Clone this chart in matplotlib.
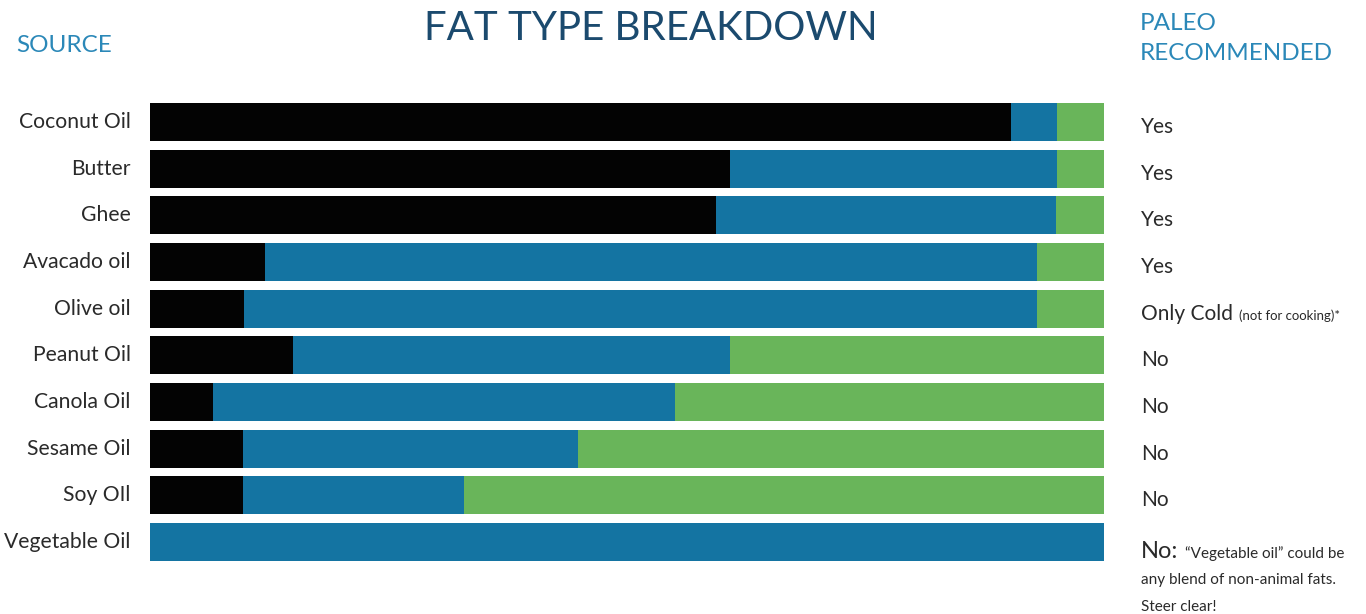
import matplotlib
matplotlib.use("Agg")
import matplotlib.pyplot as plt

plt.rcParams['font.family'] = ['Lato', 'DejaVu Sans']

sources = ["Coconut Oil", "Butter", "Ghee", "Avacado oil", "Olive oil",
           "Peanut Oil", "Canola Oil", "Sesame Oil", "Soy OIl", "Vegetable Oil"]
saturated = [90.2, 60.8, 59.3, 12.1, 9.9, 15.0, 6.6, 9.8, 9.8, 0.0]
monounsat = [4.9, 34.3, 35.7, 80.9, 83.1, 45.8, 48.4, 35.1, 23.1, 100.0]
polyunsat = [4.9, 4.9, 5.0, 7.0, 7.0, 39.2, 45.0, 55.1, 67.1, 0.0]
recommended = ["Yes", "Yes", "Yes", "Yes", "Only Cold", "No", "No", "No", "No", "No:"]

C_SAT = "#030303"
C_MONO = "#1474a2"
C_POLY = "#69b55a"
C_HEAD = "#2b88b8"
C_TITLE = "#1b4a6e"
C_TEXT = "#2a2a2a"

W, H = 1366, 614
fig = plt.figure(figsize=(W / 100, H / 100), dpi=100)
ax = fig.add_axes([150 / W, 1 - 565.3 / H, 954 / W, 466.7 / H])

ypos = list(range(len(sources)))
left2 = [a + b for a, b in zip(saturated, monounsat)]
ax.barh(ypos, saturated, height=0.815, color=C_SAT, linewidth=0)
ax.barh(ypos, monounsat, left=saturated, height=0.815, color=C_MONO, linewidth=0)
ax.barh(ypos, polyunsat, left=left2, height=0.815, color=C_POLY, linewidth=0)

ax.set_xlim(0, 100)
ax.set_ylim(len(sources) - 0.5, -0.5)
ax.set_yticks([y - 0.04 for y in ypos])
ax.set_yticklabels(sources, fontsize=15.2, color=C_TEXT)
ax.tick_params(axis='y', length=0, pad=14)
ax.set_xticks([])
for s in ax.spines.values():
    s.set_visible(False)

xr = (1141 - 150) / 954 * 100
for i, r in enumerate(recommended):
    if i == len(recommended) - 1:
        t = ax.text(xr, i + 0.35, r, fontsize=17, color=C_TEXT, va='baseline', ha='left')
        ax.annotate("\u201cVegetable oil\u201d could be", xy=(1, i + 0.35), xycoords=(t, 'data'),
                    xytext=(5, 0), textcoords='offset points', fontsize=11, color=C_TEXT,
                    va='baseline', ha='left', annotation_clip=False)
        ax.text(xr, i + 0.91, "any blend of non-animal fats.", fontsize=11, color=C_TEXT,
                va='baseline', ha='left')
        ax.text(xr, i + 1.48, "Steer clear!", fontsize=11, color=C_TEXT,
                va='baseline', ha='left')
    else:
        t = ax.text(xr, i + 0.24, r, fontsize=15, color=C_TEXT, va='baseline', ha='left')
        if r == "Only Cold":
            ax.annotate("(not for cooking)*", xy=(1, i + 0.24), xycoords=(t, 'data'),
                        xytext=(4, 0), textcoords='offset points', fontsize=9.5, color=C_TEXT,
                        va='baseline', ha='left', annotation_clip=False)

fig.text(651 / W, 1 - 28 / H, "FAT TYPE BREAKDOWN", fontsize=29, color=C_TITLE,
         ha='center', va='center')
fig.text(16 / W, 1 - 45 / H, "SOURCE", fontsize=17.5, color=C_HEAD,
         ha='left', va='center')
fig.text(1140 / W, 1 - 24 / H, "PALEO", fontsize=17.5, color=C_HEAD,
         ha='left', va='center')
fig.text(1140 / W, 1 - 53 / H, "RECOMMENDED", fontsize=17.5, color=C_HEAD,
         ha='left', va='center')

fig.savefig("out.png", dpi=100)
